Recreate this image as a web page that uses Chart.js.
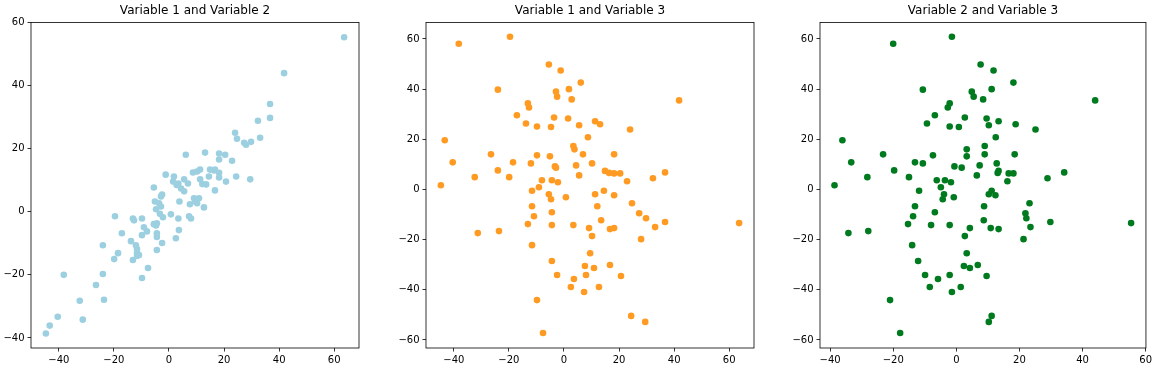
<!DOCTYPE html>
<html>
<head>
<meta charset="utf-8">
<script src="https://cdn.jsdelivr.net/npm/chart.js@4"></script>
<style>
  body { margin: 0; background: #fff; }
  canvas { position: absolute; top: 0; }
</style>
</head>
<body>
<canvas id="chart1" width="366" height="371" style="left:0px"></canvas>
<canvas id="chart2" width="366" height="371" style="left:395px"></canvas>
<canvas id="chart3" width="366" height="371" style="left:789px"></canvas>
<script>
// Three variables, one value per sample
const var1 = [-38.2, -19.6, -5.5, -1.2, 6.1, -24.0, 1.8, -2.9, -2.5, 2.8,
    -13.1, -12.7, -17.1, -3.6, 1.5, -13.8, -9.8, -4.7, 5.5, 11.3,
    13.1, 41.8, 24.0, 8.7, -43.3, 3.4, 3.8, 6.9, -26.5, 18.2,
    -9.8, -5.1, -40.4, -18.5, -12.0, 10.2, 4.4, -3.3, -2.9, -24.0,
    14.9, 36.7, 16.4, 18.2, 20.4, 5.5, -32.4, -19.9, 32.3, 22.9,
    -8.0, -4.4, -2.2, -44.7, -9.1, 14.5, -11.6, -5.5, 11.3, -4.7,
    0.7, 18.2, -11.6, 12.1, 24.7, 27.3, 29.8, 36.7, 33.1, 13.5,
    16.7, 9.1, 18.2, 28.0, 63.6, -10.9, -4.4, -13.1, -4.4, 3.4,
    10.2, -31.3, -23.6, -11.6, 9.5, -4.4, 7.6, 10.9, 16.7, 8.0,
    -2.5, 20.7, 3.6, 2.5, 12.7, 7.3, -9.8, -7.6, 24.4, 29.5];

const var2 = [-20.0, -1.4, 7.7, 11.8, 18.1, -10.6, 11.2, 4.9, 5.5, 8.5,
    -2.1, -2.7, -6.8, 2.7, 9.6, -9.3, -2.1, 0.8, 10.3, 13.4,
    18.8, 44.0, 25.1, 12.5, -36.1, 9.0, 3.3, 9.0, -23.2, 18.5,
    -7.4, 3.3, -33.3, -13.1, -10.6, 12.8, 7.4, -0.6, 1.7, -19.7,
    13.4, 34.2, 13.1, 16.6, 18.1, 6.5, -28.2, -15.0, 28.9, 16.2,
    -6.2, -3.6, -1.7, -38.6, -4.9, 11.2, -11.8, -3.9, 10.3, -4.3,
    -0.8, 12.4, -13.1, 8.8, 23.2, 21.9, 22.2, 29.8, 23.5, 8.7,
    13.4, 4.3, 10.9, 21.3, 55.4, -13.7, -6.8, -15.3, -8.0, -2.1,
    2.7, -34.2, -27.9, -14.0, 3.3, -12.1, 2.4, 4.3, 6.8, -2.1,
    -9.9, 9.6, -5.8, -8.4, 1.4, -1.4, -21.0, -17.8, 11.2, 10.3];

const var3 = [58.1, 60.9, 49.8, 47.4, 42.6, 39.8, 40.0, 39.0, 37.0, 35.9,
    34.3, 32.7, 29.6, 28.7, 28.3, 26.3, 25.1, 24.9, 25.6, 27.2,
    26.0, 35.5, 23.9, 20.8, 19.6, 17.3, 16.0, 14.0, 14.0, 14.0,
    13.6, 13.2, 10.8, 10.8, 10.4, 10.4, 9.6, 9.2, 8.7, 7.6,
    7.4, 6.8, 6.6, 6.4, 6.4, 5.6, 4.9, 4.9, 4.5, 3.3,
    3.7, 3.7, 2.9, 1.7, 0.9, -0.5, -0.5, -1.9, -1.9, -3.9,
    -3.1, -2.3, -6.7, -6.7, -5.5, -9.5, -11.5, -13.0, -15.0, -12.3,
    -15.8, -15.4, -15.4, -19.8, -13.4, -10.7, -9.1, -13.8, -14.2, -14.2,
    -18.6, -17.4, -16.6, -22.2, -25.4, -28.5, -30.5, -31.3, -30.1, -34.1,
    -34.1, -34.5, -35.7, -38.9, -38.9, -40.9, -44.1, -57.2, -50.4, -52.8];

const ticks40to60 = [-40, -20, 0, 20, 40, 60];
const ticks60to60 = [-60, -40, -20, 0, 20, 40, 60];

Chart.defaults.font.family = 'DejaVu Sans';
Chart.defaults.font.size = 10;
Chart.defaults.color = '#000';

// matplotlib style box around the plot area
const framePlugin = {
    id: 'frame',
    afterDraw(chart) {
        const { ctx, chartArea: a } = chart;
        ctx.save();
        ctx.strokeStyle = '#000';
        ctx.lineWidth = 0.8;
        ctx.strokeRect(a.left, a.top, a.right - a.left, a.bottom - a.top);
        ctx.restore();
    }
};

const minus = v => String(v).replace('-', '\u2212');

function axis(min, max, tickValues, isX) {
    return {
        type: 'linear',
        min: min,
        max: max,
        afterBuildTicks: s => { s.ticks = tickValues.map(v => ({ value: v })); },
        afterFit: s => { if (isX) s.height = 23; else s.width = 31; },
        grid: { drawOnChartArea: false, tickLength: 3.5, tickWidth: 0.8, tickColor: '#000' },
        border: { display: false },
        ticks: { padding: 3, color: '#000', autoSkip: false, maxRotation: 0, callback: minus }
    };
}

function makeScatter(id, title, xs, ys, color, xLim, yLim, xTicks, yTicks) {
    const points = xs.map((x, i) => ({ x: x, y: ys[i] }));
    new Chart(document.getElementById(id), {
        type: 'scatter',
        data: {
            datasets: [{
                data: points,
                backgroundColor: color,
                borderWidth: 0,
                pointRadius: 3.3,
                pointHoverRadius: 3.3
            }]
        },
        options: {
            responsive: false,
            animation: false,
            layout: { padding: { left: 0, right: 7, top: 0, bottom: 0 } },
            plugins: {
                legend: { display: false },
                tooltip: { enabled: false },
                title: {
                    display: true,
                    text: title,
                    fullSize: false,
                    color: '#000',
                    font: { size: 12, weight: 'normal' },
                    padding: { top: 4, bottom: 4 }
                }
            },
            scales: {
                x: axis(xLim[0], xLim[1], xTicks, true),
                y: axis(yLim[0], yLim[1], yTicks, false)
            }
        },
        plugins: [framePlugin]
    });
}

const lim1 = [-50.1, 69.0];
const lim2 = [-43.2, 60.1];
const lim3 = [-63.2, 66.6];

makeScatter('chart1', 'Variable 1 and Variable 2', var1, var2, '#9cd0e0', lim1, lim2, ticks40to60, ticks40to60);
makeScatter('chart2', 'Variable 1 and Variable 3', var1, var3, '#ff9b22', lim1, lim3, ticks40to60, ticks60to60);
makeScatter('chart3', 'Variable 2 and Variable 3', var2, var3, '#007a1f', lim2, lim3, ticks40to60, ticks60to60);
</script>
</body>
</html>
